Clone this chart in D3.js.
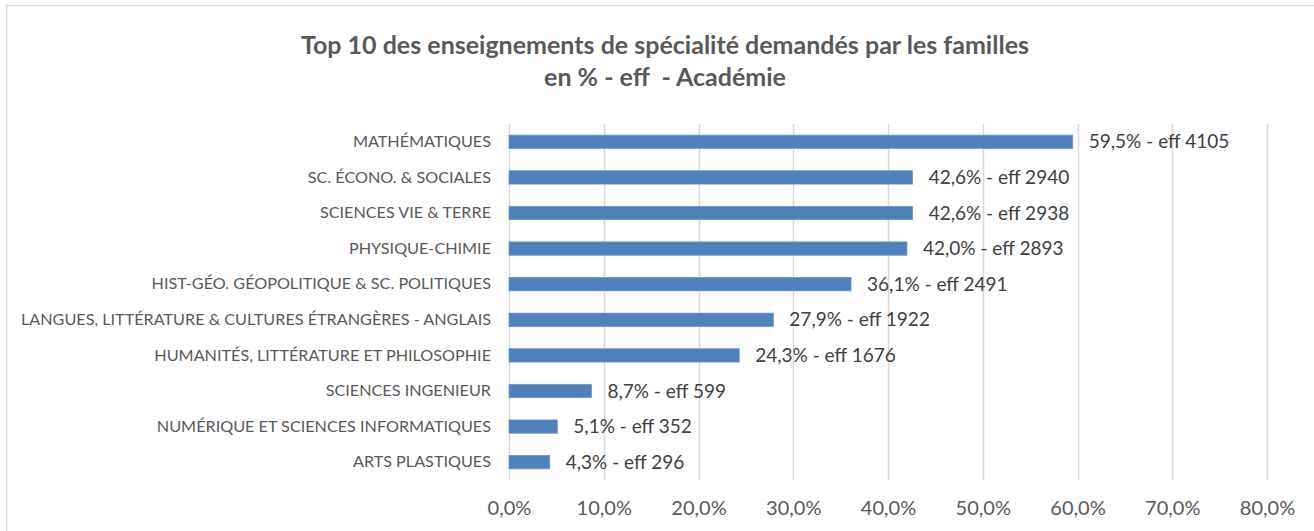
<!DOCTYPE html>
<html>
<head>
<meta charset="utf-8">
<script src="https://cdn.jsdelivr.net/npm/d3@7"></script>
<style>
  body { margin: 0; background: #fff; }
  svg { display: block; font-family: Lato, "Open Sans", sans-serif; }
</style>
</head>
<body>
<div id="chart"></div>
<script>
// Data
var categories = [
  "MATHÉMATIQUES",
  "SC. ÉCONO. & SOCIALES",
  "SCIENCES VIE & TERRE",
  "PHYSIQUE-CHIMIE",
  "HIST-GÉO. GÉOPOLITIQUE & SC. POLITIQUES",
  "LANGUES, LITTÉRATURE & CULTURES ÉTRANGÈRES - ANGLAIS",
  "HUMANITÉS, LITTÉRATURE ET PHILOSOPHIE",
  "SCIENCES INGENIEUR",
  "NUMÉRIQUE ET SCIENCES INFORMATIQUES",
  "ARTS PLASTIQUES"
];
var percents = [0.595, 0.426, 0.426, 0.420, 0.361, 0.279, 0.243, 0.087, 0.051, 0.043];
var effectifs = [4105, 2940, 2938, 2893, 2491, 1922, 1676, 599, 352, 296];
var xTicks = [0, 0.1, 0.2, 0.3, 0.4, 0.5, 0.6, 0.7, 0.8];
var titleLines = ["Top 10 des enseignements de spécialité demandés par les familles",
                  "en % - eff  - Académie"];

var data = categories.map(function(c, i) {
  return {cat: c, pct: percents[i], eff: effectifs[i]};
});

// French number formatting (comma as decimal separator)
var fr = d3.formatLocale({decimal: ",", thousands: " ", grouping: [3], currency: ["", " €"]});
var fmtPct = fr.format(".1%");

var width = 1314, height = 531;

var svg = d3.select('#chart')
            .append('svg')
            .attr('width', width)
            .attr('height', height);

svg.append('rect')
   .attr('width', width)
   .attr('height', height)
   .attr('fill', '#fff');

// Chart area border (only top and left are visible)
svg.append('path')
   .attr('d', 'M6.5,' + height + 'V5.5H' + width)
   .attr('fill', 'none')
   .attr('stroke', '#d9d9d9')
   .attr('stroke-width', 1.5);

// Title
svg.append('text')
   .attr('x', 665)
   .attr('y', 45)
   .attr('text-anchor', 'middle')
   .attr('fill', '#595959')
   .style('font-weight', 'bold')
   .style('font-size', '25px')
   .selectAll('tspan')
   .data(titleLines)
   .enter()
   .append('tspan')
   .attr('x', 665)
   .attr('dy', function(d, i) { return i === 0 ? '0.35em' : 32; })
   .style('white-space', 'pre')
   .text(function(d) { return d; });

// Scales
var x = d3.scaleLinear()
          .domain([0, 0.8])
          .range([509, 1267]);

var y = d3.scaleBand()
          .domain(categories)
          .range([124, 480])
          .paddingInner(0.625)
          .paddingOuter(0.3125);

// Vertical gridlines
svg.append('g')
   .selectAll('line')
   .data(xTicks)
   .enter()
   .append('line')
   .attr('x1', function(d) { return Math.round(x(d)) + 0.5; })
   .attr('x2', function(d) { return Math.round(x(d)) + 0.5; })
   .attr('y1', 124)
   .attr('y2', 480)
   .attr('stroke', '#d9d9d9')
   .attr('stroke-width', 1.5);

// x-axis tick labels
var x_axis = d3.axisBottom(x)
               .tickValues(xTicks)
               .tickFormat(fmtPct)
               .tickSize(0)
               .tickPadding(0);

var gx = svg.append('g')
            .attr('transform', 'translate(0,508)')
            .call(x_axis);
gx.select('.domain').remove();
gx.selectAll('text')
  .attr('dy', '0.35em')
  .attr('fill', '#595959')
  .style('font-family', 'Lato, "Open Sans", sans-serif')
  .style('font-size', '20px');

// y-axis category labels
var y_axis = d3.axisLeft(y)
               .tickSize(0)
               .tickPadding(0);

var gy = svg.append('g')
            .attr('transform', 'translate(491,0)')
            .call(y_axis);
gy.select('.domain').remove();
gy.selectAll('text')
  .attr('fill', '#595959')
  .style('font-family', 'Lato, "Open Sans", sans-serif')
  .style('font-size', '16.2px');

// Bars
var bars = svg.selectAll('.bar-group')
              .data(data)
              .enter()
              .append('g')
              .attr('class', 'bar-group')
              .attr('transform', function(d) {
                return 'translate(0,' + y(d.cat) + ')';
              });

bars.append('rect')
    .attr('x', x(0))
    .attr('width', function(d) { return x(d.pct) - x(0); })
    .attr('height', y.bandwidth())
    .attr('fill', '#4f81bd')
    .attr('stroke', '#6a95c8')
    .attr('stroke-width', 0.75);

// Value labels
bars.append('text')
    .attr('x', function(d) { return x(d.pct); })
    .attr('dx', 16)
    .attr('y', y.bandwidth() / 2)
    .attr('dy', '0.35em')
    .attr('fill', '#404040')
    .style('font-size', '19px')
    .text(function(d) { return fmtPct(d.pct) + ' - eff ' + d.eff; });
</script>
</body>
</html>
